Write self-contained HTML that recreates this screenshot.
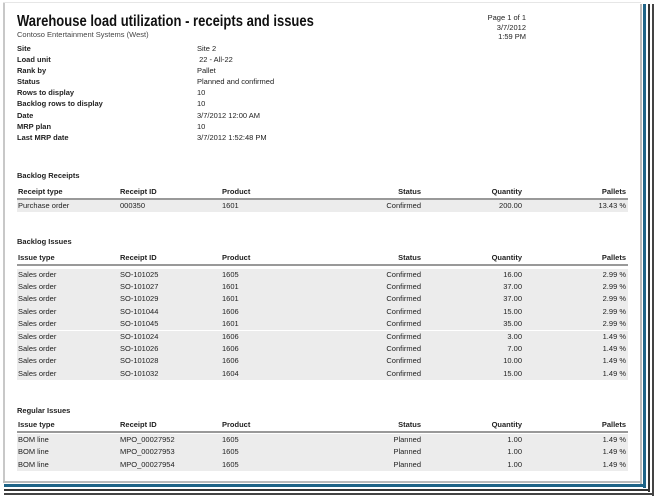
<!DOCTYPE html>
<html><head><meta charset="utf-8"><style>
body{margin:0;width:656px;height:498px;background:#fff;position:relative;overflow:hidden;font-family:"Liberation Sans",sans-serif;color:#222}
div{position:absolute}
.t{font-size:7.5px;white-space:nowrap;line-height:12px}
.b{font-weight:bold}
.r{left:17px;width:611px;height:12.4px;font-size:7.5px;line-height:12.4px;white-space:nowrap}
.g{background:#ececec}
.r span{position:absolute}
.c1{left:1px}.c2{left:103px}.c3{left:205px}
.c4{right:207px}.c5{right:106px}.c6{right:2px}
.h{border-bottom:2px solid #999;font-weight:bold}
</style></head><body>
<!-- frame -->
<div style="left:3px;top:2px;width:2px;height:480px;background:#c8c8c8"></div>
<div style="left:3px;top:2px;width:638px;height:1px;background:#e6e6e6"></div>
<div style="left:640px;top:4px;width:2px;height:480px;background:#bbb"></div>
<div style="left:3px;top:481px;width:639px;height:2px;background:#bbb"></div>
<div style="left:643px;top:4px;width:3px;height:484px;background:#1f6487"></div>
<div style="left:4px;top:484px;width:642px;height:3px;background:#1f6487"></div>
<div style="left:648px;top:4px;width:2px;height:488px;background:#333"></div>
<div style="left:4px;top:489px;width:646px;height:2px;background:#333"></div>
<div style="left:652px;top:4px;width:2px;height:492px;background:#444"></div>
<div style="left:4px;top:493px;width:650px;height:2px;background:#444"></div>

<div style="left:17px;top:13px;font-size:15.5px;font-weight:bold;color:#111;white-space:nowrap;transform:scaleX(0.84);transform-origin:0 0">Warehouse load utilization - receipts and issues</div>
<div class="t" style="left:17px;top:29px;color:#444">Contoso Entertainment Systems (West)</div>
<div class="t" style="left:456px;top:13px;width:70px;text-align:right;line-height:9.5px">Page 1 of 1<br>3/7/2012<br>1:59 PM</div>

<div class="t b" style="left:17px;top:43px;line-height:11.1px">Site<br>Load unit<br>Rank by<br>Status<br>Rows to display<br>Backlog rows to display<br>Date<br>MRP plan<br>Last MRP date</div>
<div class="t" style="left:197px;top:43px;line-height:11.1px">Site 2<br>&nbsp;22 - All-22<br>Pallet<br>Planned and confirmed<br>10<br>10<br>3/7/2012 12:00 AM<br>10<br>3/7/2012 1:52:48 PM</div>

<div class="t b" style="left:17px;top:170px">Backlog Receipts</div>
<div class="r h" style="top:186px"><span class="c1">Receipt type</span><span class="c2">Receipt ID</span><span class="c3">Product</span><span class="c4">Status</span><span class="c5">Quantity</span><span class="c6">Pallets</span></div>
<div class="r g" style="top:200px"><span class="c1">Purchase order</span><span class="c2">000350</span><span class="c3">1601</span><span class="c4">Confirmed</span><span class="c5">200.00</span><span class="c6">13.43 %</span></div>

<div class="t b" style="left:17px;top:236px">Backlog Issues</div>
<div class="r h" style="top:252px"><span class="c1">Issue type</span><span class="c2">Receipt ID</span><span class="c3">Product</span><span class="c4">Status</span><span class="c5">Quantity</span><span class="c6">Pallets</span></div>
<div class="r g" style="top:268.5px"><span class="c1">Sales order</span><span class="c2">SO-101025</span><span class="c3">1605</span><span class="c4">Confirmed</span><span class="c5">16.00</span><span class="c6">2.99 %</span></div>
<div class="r g" style="top:280.9px"><span class="c1">Sales order</span><span class="c2">SO-101027</span><span class="c3">1601</span><span class="c4">Confirmed</span><span class="c5">37.00</span><span class="c6">2.99 %</span></div>
<div class="r g" style="top:293.3px"><span class="c1">Sales order</span><span class="c2">SO-101029</span><span class="c3">1601</span><span class="c4">Confirmed</span><span class="c5">37.00</span><span class="c6">2.99 %</span></div>
<div class="r g" style="top:305.7px"><span class="c1">Sales order</span><span class="c2">SO-101044</span><span class="c3">1606</span><span class="c4">Confirmed</span><span class="c5">15.00</span><span class="c6">2.99 %</span></div>
<div class="r g" style="top:318.1px"><span class="c1">Sales order</span><span class="c2">SO-101045</span><span class="c3">1601</span><span class="c4">Confirmed</span><span class="c5">35.00</span><span class="c6">2.99 %</span></div>
<div class="r g" style="top:330.5px"><span class="c1">Sales order</span><span class="c2">SO-101024</span><span class="c3">1606</span><span class="c4">Confirmed</span><span class="c5">3.00</span><span class="c6">1.49 %</span></div>
<div class="r g" style="top:342.9px"><span class="c1">Sales order</span><span class="c2">SO-101026</span><span class="c3">1606</span><span class="c4">Confirmed</span><span class="c5">7.00</span><span class="c6">1.49 %</span></div>
<div class="r g" style="top:355.3px"><span class="c1">Sales order</span><span class="c2">SO-101028</span><span class="c3">1606</span><span class="c4">Confirmed</span><span class="c5">10.00</span><span class="c6">1.49 %</span></div>
<div class="r g" style="top:367.7px"><span class="c1">Sales order</span><span class="c2">SO-101032</span><span class="c3">1604</span><span class="c4">Confirmed</span><span class="c5">15.00</span><span class="c6">1.49 %</span></div>

<div class="t b" style="left:17px;top:405px">Regular Issues</div>
<div class="r h" style="top:419px"><span class="c1">Issue type</span><span class="c2">Receipt ID</span><span class="c3">Product</span><span class="c4">Status</span><span class="c5">Quantity</span><span class="c6">Pallets</span></div>
<div class="r g" style="top:434px"><span class="c1">BOM line</span><span class="c2">MPO_00027952</span><span class="c3">1605</span><span class="c4">Planned</span><span class="c5">1.00</span><span class="c6">1.49 %</span></div>
<div class="r g" style="top:446.4px"><span class="c1">BOM line</span><span class="c2">MPO_00027953</span><span class="c3">1605</span><span class="c4">Planned</span><span class="c5">1.00</span><span class="c6">1.49 %</span></div>
<div class="r g" style="top:458.8px"><span class="c1">BOM line</span><span class="c2">MPO_00027954</span><span class="c3">1605</span><span class="c4">Planned</span><span class="c5">1.00</span><span class="c6">1.49 %</span></div>
</body></html>
